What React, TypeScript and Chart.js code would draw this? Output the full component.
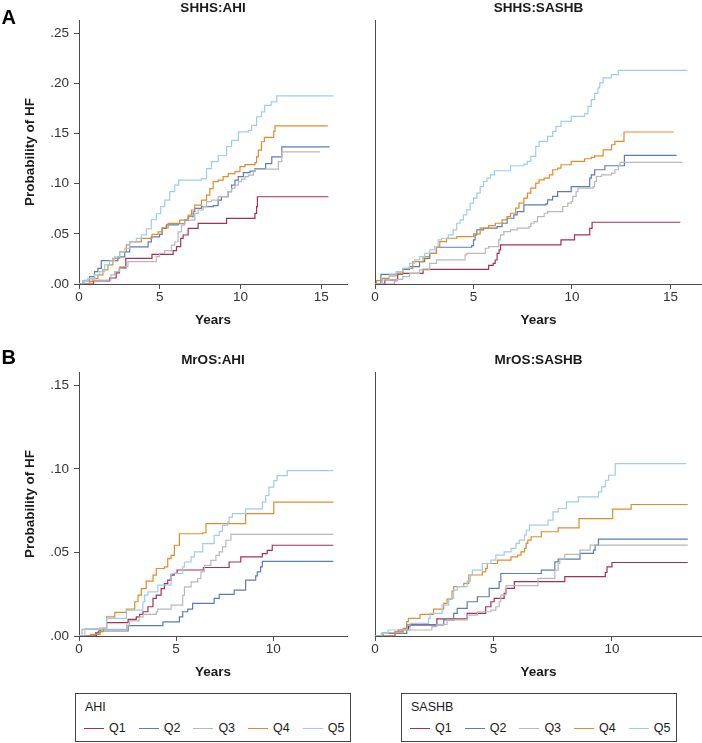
import React, { useEffect, useRef } from "react";
import { Chart, registerables } from "chart.js";

Chart.register(...registerables);

const FONT = '"Liberation Sans", Arial, Helvetica, sans-serif';
const TEXT = "#1a1a1a";
const TICK = "#333333";
const AXIS = "#4d4d4d";

const QUARTILES = ["Q1", "Q2", "Q3", "Q4", "Q5"];
const COLORS = ["#a52f5c", "#5a7db5", "#b8b8b8", "#e38b2c", "#9dcde9"];

const X_TICKS_SHHS = ["0", "5", "10", "15"];
const X_TICKS_MROS = ["0", "5", "10"];
const Y_TICKS_SHHS = [".00", ".05", ".10", ".15", ".20", ".25"];
const Y_TICKS_MROS = [".00", ".05", ".10", ".15"];

// [years, cumulative probability of HF] — step points
const SHHS_AHI_Q1 = [[0,0],[0.9,0.003],[1.9,0.006],[2.3,0.011],[2.5,0.016],[2.9,0.0255],[4.52,0.0295],[5.83,0.0332],[6.04,0.0372],[6.3,0.0455],[6.45,0.0488],[6.76,0.0554],[7.38,0.0604],[9.14,0.0654],[10.9,0.0703],[11.0,0.077],[11.05,0.0869],[15.45,0.0869]];
const SHHS_AHI_Q2 = [[0,0],[0.24,0.003],[0.65,0.0073],[0.96,0.0123],[1.17,0.0156],[1.38,0.0232],[2.41,0.027],[2.83,0.032],[3.14,0.037],[4.28,0.042],[4.48,0.047],[4.99,0.0494],[5.15,0.0554],[5.41,0.059],[6.14,0.06],[6.55,0.0637],[6.76,0.067],[7.07,0.072],[7.17,0.0753],[7.59,0.077],[8.31,0.078],[8.62,0.0836],[8.82,0.087],[9.24,0.092],[9.45,0.0985],[9.66,0.1035],[9.86,0.107],[10.18,0.111],[10.59,0.1125],[10.9,0.115],[11.56,0.12],[11.94,0.1267],[12.56,0.1367],[15.52,0.1367]];
const SHHS_AHI_Q3 = [[0,0],[0.34,0.004],[1.98,0.009],[2.2,0.0123],[2.52,0.0173],[3.03,0.0222],[4.79,0.0272],[4.99,0.0305],[5.31,0.0332],[5.72,0.0388],[5.93,0.0421],[6.14,0.052],[6.35,0.0587],[6.55,0.0637],[7.17,0.0703],[7.38,0.0737],[7.69,0.077],[7.9,0.082],[8.2,0.0836],[8.62,0.087],[9.24,0.092],[9.45,0.0952],[9.66,0.0985],[9.87,0.102],[10.07,0.1045],[10.28,0.107],[10.49,0.1085],[10.8,0.112],[10.9,0.1145],[12.35,0.122],[12.56,0.1317],[14.94,0.1317]];
const SHHS_AHI_Q4 = [[0,0],[0.65,0.0023],[0.86,0.0056],[1.17,0.009],[1.48,0.014],[1.79,0.019],[2.1,0.0255],[2.52,0.032],[2.93,0.039],[3.14,0.042],[3.86,0.0455],[4.52,0.0494],[4.9,0.052],[5.15,0.056],[5.52,0.0604],[6.24,0.0637],[6.76,0.0687],[6.97,0.0737],[7.17,0.0786],[7.59,0.0836],[7.9,0.0886],[8.1,0.095],[8.31,0.102],[8.62,0.1035],[8.93,0.107],[9.24,0.11],[9.66,0.112],[9.97,0.117],[10.28,0.119],[10.9,0.121],[11.0,0.1267],[11.11,0.1334],[11.3,0.1417],[11.48,0.146],[12.06,0.152],[12.14,0.1576],[15.41,0.1576]];
const SHHS_AHI_Q5 = [[0,0],[0.24,0.0023],[0.55,0.0056],[0.96,0.009],[1.27,0.0123],[1.58,0.019],[1.89,0.023],[2.2,0.027],[2.52,0.032],[2.83,0.0355],[3.14,0.042],[3.55,0.0455],[3.86,0.049],[4.17,0.055],[4.48,0.064],[4.79,0.07],[5.06,0.077],[5.31,0.0836],[5.62,0.092],[5.93,0.0985],[6.18,0.1035],[7.59,0.105],[7.9,0.115],[8.21,0.122],[8.62,0.128],[9.14,0.137],[9.45,0.143],[9.87,0.1516],[10.49,0.153],[10.7,0.158],[11.0,0.1666],[11.3,0.1715],[11.5,0.178],[11.9,0.1815],[12.25,0.1875],[15.76,0.1875]];

const SHHS_SASHB_Q1 = [[0,0],[0.5,0.004],[1.15,0.0106],[2.44,0.0146],[5.77,0.0186],[6.0,0.0206],[6.1,0.0239],[6.2,0.0306],[6.3,0.034],[6.37,0.0389],[9.44,0.0439],[10.13,0.0489],[10.9,0.0555],[11.02,0.0615],[15.5,0.0615]];
const SHHS_SASHB_Q2 = [[0,0],[0.3,0.0096],[1.41,0.0146],[1.75,0.0173],[2.26,0.0223],[2.52,0.0256],[2.78,0.0306],[3.12,0.0366],[4.91,0.0383],[5.0,0.0439],[5.08,0.0489],[5.17,0.0539],[5.51,0.0556],[6.2,0.0572],[6.45,0.0605],[6.71,0.0655],[7.05,0.0689],[7.22,0.0722],[7.56,0.0788],[8.67,0.0798],[8.76,0.0838],[9.02,0.0872],[9.27,0.0921],[9.96,0.0971],[10.9,0.1055],[10.98,0.1088],[11.15,0.1138],[11.67,0.1178],[12.66,0.1281],[15.31,0.1281]];
const SHHS_SASHB_Q3 = [[0,0],[0.98,0.0023],[1.07,0.0047],[1.41,0.0073],[1.75,0.0106],[2.26,0.014],[2.78,0.0206],[3.12,0.024],[4.57,0.0289],[4.66,0.0306],[5.6,0.0356],[5.77,0.0373],[6.28,0.0439],[6.37,0.0489],[6.54,0.0522],[6.88,0.0539],[7.22,0.0556],[7.82,0.0572],[7.91,0.0605],[8.08,0.0622],[8.25,0.0672],[8.59,0.0705],[8.76,0.0722],[9.53,0.0772],[9.79,0.0805],[9.96,0.0822],[10.04,0.0872],[10.21,0.0921],[10.3,0.0955],[11.07,0.0971],[11.15,0.1021],[11.24,0.1071],[11.5,0.1088],[12.01,0.1104],[12.18,0.1138],[12.35,0.1178],[12.44,0.1211],[15.6,0.1211]];
const SHHS_SASHB_Q4 = [[0,0],[0.08,0.0033],[0.38,0.0057],[0.73,0.008],[1.07,0.0106],[1.41,0.0156],[1.92,0.0223],[2.44,0.0273],[2.78,0.0306],[3.12,0.0373],[3.29,0.0422],[3.63,0.0456],[4.15,0.0472],[5.0,0.0499],[5.34,0.0556],[5.77,0.0582],[6.11,0.0605],[6.45,0.0639],[6.71,0.0672],[6.88,0.0705],[7.14,0.0755],[7.31,0.0805],[7.56,0.0855],[7.74,0.0905],[7.91,0.0955],[8.16,0.1005],[8.33,0.1038],[8.59,0.1055],[8.85,0.1088],[9.02,0.1138],[9.27,0.1154],[9.44,0.1188],[9.96,0.1221],[10.64,0.1248],[10.98,0.1261],[11.15,0.1277],[11.58,0.1337],[12.01,0.1387],[12.18,0.142],[12.64,0.1514],[15.17,0.1514]];
const SHHS_SASHB_Q5 = [[0,0],[0.38,0.004],[0.73,0.009],[1.07,0.0123],[1.41,0.0156],[1.75,0.0206],[2.01,0.024],[2.26,0.0273],[2.52,0.0306],[2.78,0.034],[3.03,0.0373],[3.21,0.0439],[3.38,0.0456],[3.72,0.0489],[3.97,0.0539],[4.15,0.0605],[4.32,0.0639],[4.49,0.0689],[4.66,0.0739],[4.83,0.0805],[5.0,0.0855],[5.17,0.0905],[5.34,0.0971],[5.51,0.1021],[5.68,0.1055],[5.85,0.1088],[6.06,0.1128],[6.88,0.1178],[7.56,0.1194],[7.73,0.1221],[7.91,0.1271],[8.16,0.1371],[8.33,0.142],[8.76,0.147],[9.02,0.152],[9.19,0.157],[9.44,0.162],[9.96,0.167],[10.64,0.1697],[10.81,0.177],[10.98,0.1836],[11.15,0.19],[11.32,0.1953],[11.41,0.2003],[11.58,0.2053],[12.0,0.2086],[12.35,0.2129],[15.85,0.2129]];

const MROS_AHI_Q1 = [[0,0],[0.9,0.002],[1.08,0.0046],[1.42,0.008],[2.53,0.01],[2.95,0.0115],[3.12,0.0129],[3.29,0.0145],[3.55,0.0175],[3.81,0.0225],[3.98,0.0245],[4.23,0.0284],[4.4,0.0314],[4.57,0.0334],[4.74,0.0364],[4.9,0.0375],[5.05,0.0395],[6.4,0.041],[7.73,0.0443],[8.33,0.0473],[9.44,0.0493],[9.69,0.0513],[9.95,0.0543],[13.1,0.0543]];
const MROS_AHI_Q2 = [[0,0],[0.85,0.002],[1.0,0.003],[2.53,0.0062],[4.32,0.0085],[5.17,0.0115],[5.34,0.0145],[5.6,0.0161],[5.85,0.0195],[6.96,0.0225],[7.22,0.0249],[7.99,0.0274],[8.58,0.0334],[9.1,0.036],[9.18,0.0384],[9.35,0.0414],[9.44,0.0447],[13.1,0.0447]];
const MROS_AHI_Q3 = [[0,0],[0.15,0.004],[2.45,0.0065],[2.6,0.009],[3.1,0.0115],[3.3,0.013],[3.98,0.0145],[4.06,0.0161],[4.74,0.0185],[5.34,0.0245],[5.43,0.0294],[5.77,0.0324],[6.11,0.0344],[6.28,0.0384],[6.45,0.0423],[6.79,0.0453],[7.05,0.0483],[7.22,0.0503],[7.39,0.0533],[7.56,0.0573],[7.82,0.0608],[13.1,0.0608]];
const MROS_AHI_Q4 = [[0,0],[0.6,0.001],[1.08,0.0026],[1.25,0.0046],[1.42,0.0115],[1.84,0.0141],[2.44,0.0161],[2.87,0.0205],[3.04,0.0245],[3.21,0.0284],[3.46,0.0328],[3.81,0.0364],[3.98,0.0404],[4.4,0.0414],[4.57,0.0463],[4.74,0.0483],[4.91,0.0543],[5.17,0.0612],[6.37,0.0618],[6.54,0.0672],[8.58,0.0732],[10.03,0.0801],[13.1,0.0801]];
const MROS_AHI_Q5 = [[0,0],[0.3,0.0045],[1.42,0.0105],[2.44,0.0155],[3.29,0.0205],[3.38,0.0245],[3.55,0.0264],[4.06,0.0304],[4.74,0.0374],[5.34,0.0414],[5.43,0.0443],[5.77,0.0473],[5.94,0.0503],[6.37,0.0553],[6.96,0.0602],[7.22,0.0626],[7.39,0.0662],[7.65,0.0682],[7.73,0.0712],[7.9,0.0732],[8.58,0.0761],[9.44,0.0801],[9.61,0.0841],[9.78,0.0891],[10.03,0.093],[10.2,0.096],[10.72,0.099],[13.1,0.099]];

const MROS_SASHB_Q1 = [[0,0],[0.84,0.002],[0.98,0.0036],[1.41,0.0056],[1.48,0.0066],[2.61,0.0102],[3.89,0.0135],[4.67,0.0175],[4.89,0.0205],[5.03,0.0225],[5.45,0.0255],[5.53,0.0285],[5.88,0.0325],[8.01,0.0355],[9.72,0.038],[9.79,0.0414],[10.0,0.044],[13.2,0.044]];
const MROS_SASHB_Q2 = [[0,0],[0.34,0.0016],[1.34,0.0066],[2.9,0.0096],[3.32,0.0135],[3.47,0.0165],[3.89,0.0205],[4.32,0.0235],[4.82,0.0285],[5.24,0.0325],[5.31,0.0374],[7.02,0.0394],[7.59,0.0444],[7.73,0.046],[8.65,0.0494],[9.22,0.0514],[9.29,0.0544],[9.43,0.058],[13.2,0.058]];
const MROS_SASHB_Q3 = [[0,0],[0.3,0.002],[1.19,0.0036],[2.4,0.0056],[2.61,0.007],[3.04,0.0096],[3.89,0.0125],[4.32,0.0145],[4.89,0.0155],[5.1,0.0175],[5.24,0.0205],[5.31,0.0245],[5.53,0.0301],[6.88,0.0345],[7.59,0.0394],[7.73,0.0434],[7.8,0.046],[8.01,0.0488],[8.65,0.0514],[9.08,0.0544],[13.2,0.0544]];
const MROS_SASHB_Q4 = [[0,0],[0.84,0.0026],[1.19,0.0046],[1.34,0.0086],[1.41,0.0106],[1.9,0.0129],[2.47,0.0161],[2.9,0.0195],[3.04,0.0221],[3.25,0.0269],[3.32,0.0295],[3.75,0.0315],[3.96,0.0365],[4.53,0.0384],[4.67,0.0404],[4.74,0.0434],[5.17,0.0454],[5.74,0.0474],[6.02,0.0484],[6.16,0.0504],[6.31,0.0524],[6.38,0.0554],[6.45,0.0574],[6.59,0.0594],[7.02,0.0624],[7.73,0.0647],[8.61,0.0703],[10.03,0.0759],[10.81,0.0787],[13.2,0.0787]];
const MROS_SASHB_Q5 = [[0,0],[0.27,0.0016],[0.55,0.0036],[1.48,0.0076],[2.26,0.0106],[2.33,0.0135],[2.83,0.0185],[3.11,0.0225],[3.32,0.0275],[3.47,0.0295],[3.89,0.0329],[4.03,0.0365],[4.11,0.0394],[4.53,0.0434],[4.89,0.0454],[5.1,0.0484],[5.45,0.0504],[5.74,0.0524],[5.95,0.0554],[6.09,0.0574],[6.31,0.0604],[6.38,0.0633],[6.52,0.0663],[7.3,0.0693],[7.51,0.0743],[7.73,0.0763],[8.08,0.0803],[8.58,0.0833],[9.43,0.0863],[9.57,0.0892],[9.72,0.0932],[9.86,0.0962],[10.14,0.1032],[13.13,0.1032]];

type Pts = number[][];

interface PanelProps {
  left: number;
  top: number;
  width: number;
  height: number;
  title: string;
  series: Pts[];
  xMax: number;
  yMax: number;
  xTicks: string[];
  yTicks: string[] | null;
  yAxisWidth: number;
  padRight: number;
}

function KMPanel(p: PanelProps) {
  const ref = useRef<HTMLCanvasElement>(null);
  useEffect(() => {
    const showY = p.yTicks !== null;
    const chart = new Chart(ref.current as HTMLCanvasElement, {
      type: "line",
      data: {
        datasets: p.series.map((pts, i) => ({
          label: QUARTILES[i],
          data: pts.map(([x, y]) => ({ x, y })),
          borderColor: COLORS[i],
          backgroundColor: COLORS[i],
          borderWidth: 1.2,
          pointRadius: 0,
          pointHoverRadius: 0,
          stepped: "before" as const,
          fill: false,
          tension: 0,
          order: QUARTILES.length - 1 - i,
        })),
      },
      options: {
        responsive: false,
        animation: false,
        events: [],
        layout: { padding: { left: 0, right: p.padRight, top: 0, bottom: 0 } },
        plugins: {
          legend: { display: false },
          tooltip: { enabled: false },
          title: {
            display: true,
            text: p.title,
            fullSize: false,
            color: TEXT,
            font: { family: FONT, size: 13.5, weight: "bold" },
            padding: { top: 0, bottom: 3.8 },
          },
        },
        scales: {
          x: {
            type: "linear",
            min: 0,
            max: p.xMax,
            ticks: {
              stepSize: 5,
              includeBounds: false,
              autoSkip: false,
              maxRotation: 0,
              padding: 0,
              color: TICK,
              font: { family: FONT, size: 13.5 },
              callback: (v: any, i: number) => p.xTicks[i] ?? String(v),
            },
            grid: { drawOnChartArea: false, drawTicks: true, tickLength: 5, color: AXIS, lineWidth: 1 },
            border: { display: true, color: AXIS, width: 1 },
            title: {
              display: true,
              text: "Years",
              color: TEXT,
              font: { family: FONT, size: 13.5, weight: "bold" },
              padding: { top: 0, bottom: 1.9 },
            },
            afterFit: (s: any) => {
              s.height = 46;
            },
          },
          y: {
            type: "linear",
            min: 0,
            max: p.yMax,
            ticks: {
              display: showY,
              stepSize: 0.05,
              includeBounds: false,
              padding: 5,
              color: TICK,
              font: { family: FONT, size: 13.5 },
              callback: (v: any, i: number) =>
                p.yTicks ? p.yTicks[i] ?? Number(v).toFixed(2).replace(/^0/, "") : "",
            },
            grid: {
              display: showY,
              drawOnChartArea: false,
              drawTicks: showY,
              tickLength: 5,
              color: AXIS,
              lineWidth: 1,
            },
            border: { display: true, color: AXIS, width: 1 },
            title: {
              display: showY,
              text: "Probability of HF",
              color: TEXT,
              font: { family: FONT, size: 13.5, weight: "bold" },
              padding: { top: 22.4, bottom: 0 },
            },
            afterFit: (s: any) => {
              s.width = p.yAxisWidth;
            },
          },
        },
      } as any,
    });
    return () => chart.destroy();
  }, []);
  return (
    <canvas
      ref={ref}
      width={p.width}
      height={p.height}
      style={{ position: "absolute", left: p.left, top: p.top, width: p.width, height: p.height }}
    />
  );
}

function LegendBox({ left, title }: { left: number; title: string }) {
  return (
    <div
      style={{
        position: "absolute",
        left,
        top: 693,
        width: 276,
        height: 49,
        boxSizing: "border-box",
        border: "1px solid #444",
        fontFamily: FONT,
        fontSize: 12.5,
        color: TEXT,
      }}
    >
      <div style={{ position: "absolute", left: 9, top: 5, lineHeight: "16px", whiteSpace: "nowrap" }}>{title}</div>
      <div
        style={{
          position: "absolute",
          left: 8,
          top: 26,
          height: 16,
          display: "flex",
          alignItems: "center",
          whiteSpace: "nowrap",
        }}
      >
        {QUARTILES.map((q, i) => (
          <div key={q} style={{ display: "flex", alignItems: "center", marginRight: i < QUARTILES.length - 1 ? 13 : 0 }}>
            <span style={{ display: "inline-block", width: 20, height: 0, borderTop: `1.5px solid ${COLORS[i]}`, marginRight: 5 }} />
            <span style={{ lineHeight: "16px" }}>{q}</span>
          </div>
        ))}
      </div>
    </div>
  );
}

export default function App() {
  const panelLabel = (text: string, top: number) => (
    <div
      style={{
        position: "absolute",
        left: 1.5,
        top,
        fontFamily: FONT,
        fontWeight: "bold",
        fontSize: 20,
        lineHeight: "20px",
        color: "#000",
      }}
    >
      {text}
    </div>
  );
  return (
    <div style={{ position: "absolute", left: 0, top: 0, width: 702, height: 743, background: "#fff", overflow: "hidden" }}>
      <KMPanel
        left={0}
        top={0}
        width={351}
        height={330}
        title="SHHS:AHI"
        series={[SHHS_AHI_Q1, SHHS_AHI_Q2, SHHS_AHI_Q3, SHHS_AHI_Q4, SHHS_AHI_Q5]}
        xMax={16.6}
        yMax={0.263}
        xTicks={X_TICKS_SHHS}
        yTicks={Y_TICKS_SHHS}
        yAxisWidth={79}
        padRight={4}
      />
      <KMPanel
        left={351}
        top={0}
        width={351}
        height={330}
        title="SHHS:SASHB"
        series={[SHHS_SASHB_Q1, SHHS_SASHB_Q2, SHHS_SASHB_Q3, SHHS_SASHB_Q4, SHHS_SASHB_Q5]}
        xMax={16.6}
        yMax={0.263}
        xTicks={X_TICKS_SHHS}
        yTicks={null}
        yAxisWidth={24}
        padRight={0}
      />
      <KMPanel
        left={0}
        top={352}
        width={351}
        height={330}
        title="MrOS:AHI"
        series={[MROS_AHI_Q1, MROS_AHI_Q2, MROS_AHI_Q3, MROS_AHI_Q4, MROS_AHI_Q5]}
        xMax={13.8}
        yMax={0.158}
        xTicks={X_TICKS_MROS}
        yTicks={Y_TICKS_MROS}
        yAxisWidth={79}
        padRight={4}
      />
      <KMPanel
        left={351}
        top={352}
        width={351}
        height={330}
        title="MrOS:SASHB"
        series={[MROS_SASHB_Q1, MROS_SASHB_Q2, MROS_SASHB_Q3, MROS_SASHB_Q4, MROS_SASHB_Q5]}
        xMax={13.8}
        yMax={0.158}
        xTicks={X_TICKS_MROS}
        yTicks={null}
        yAxisWidth={24}
        padRight={0}
      />
      {panelLabel("A", 7)}
      {panelLabel("B", 347)}
      <LegendBox left={75} title="AHI" />
      <LegendBox left={401} title="SASHB" />
    </div>
  );
}
